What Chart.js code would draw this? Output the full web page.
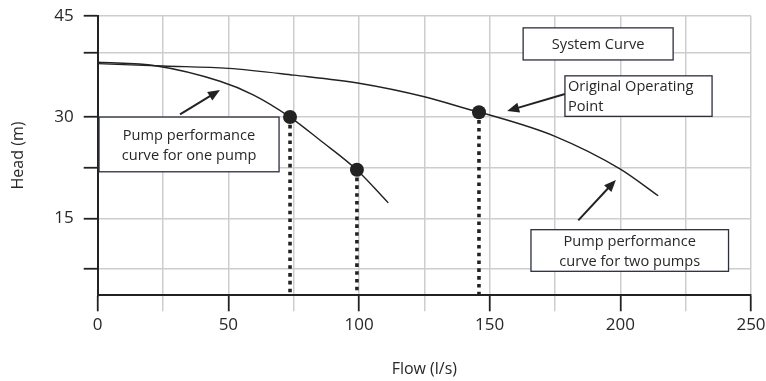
<!DOCTYPE html>
<html><head><meta charset="utf-8">
<script src="https://cdn.jsdelivr.net/npm/chart.js@4.4.0/dist/chart.umd.min.js"></script>
<style>html,body{margin:0;padding:0;background:#fff;overflow:hidden}
#wrap{width:766px;height:381px;position:relative}</style>
</head><body><div id="wrap"><canvas id="c" width="766" height="381"></canvas></div>
<script>
// ---- data ----
const onePumpFlow = [0, 22, 46.8, 59.5, 73.6, 85, 99.1, 111.2];
const onePumpHead = [38.1, 37.6, 35.3, 33.3, 30.0, 26.6, 22.2, 17.3];
const twoPumpFlow = [0, 25, 50, 75, 100, 125, 145.9, 150, 175, 200, 214.5];
const twoPumpHead = [37.9, 37.55, 37.2, 36.2, 35.0, 33.0, 30.7, 30.3, 27.15, 22.3, 18.35];
const opFlow = [73.6, 99.2, 145.9];
const opHead = [30.0, 22.2, 30.7];
const xTicks = [0, 25, 50, 75, 100, 125, 150, 175, 200, 225, 250];
const xLabels = [0, 50, 100, 150, 200, 250];
const yTicks = [7.5, 15, 22.5, 30, 39.5, 45];
const yLabels = [15, 30, 45];
const yMin = 3.62, yMax = 45;
const xTitle = 'Flow (l/s)';
const yTitle = 'Head (m)';
const noteTexts = [
  ['Pump performance', 'curve for one pump'],
  ['System Curve'],
  ['Original Operating', 'Point'],
  ['Pump performance', 'curve for two pumps']
];

// ---- annotation geometry (data units) ----
const noteBoxes = [
  {x0: 0.5, x1: 69.4, y0: 30, y1: 21.9, align: 'center'},
  {x0: 162.8, x1: 220.2, y0: 43.2, y1: 38.45, align: 'center'},
  {x0: 178.8, x1: 235.1, y0: 36.1, y1: 30.1, align: 'left'},
  {x0: 165.8, x1: 241.4, y0: 13.33, y1: 7.17, align: 'center'}
];
const noteArrows = [
  {from: [31.5, 30.4], to: [46.8, 34.0]},
  {from: [178.8, 33.4], to: [156.7, 30.9]},
  {from: [183.9, 14.7], to: [198.3, 20.7]}
];

const INK = '#222222';
const TXT = '#282828';
const GRID = '#cdcdcd';
const FONT = "'Open Sans', sans-serif";

const pts = (xs, ys) => xs.map((v, i) => ({x: v, y: ys[i]}));

const datasets = [
  {data: pts(twoPumpFlow, twoPumpHead), borderColor: INK, borderWidth: 1.4, pointRadius: 0, cubicInterpolationMode: 'monotone', fill: false},
  {data: pts(onePumpFlow, onePumpHead), borderColor: INK, borderWidth: 1.4, pointRadius: 0, cubicInterpolationMode: 'monotone', fill: false}
];
opFlow.forEach((f, i) => {
  datasets.push({data: [{x: f, y: opHead[i]}, {x: f, y: yMin}], borderColor: INK, borderWidth: 3.6,
    borderDash: [3.6, 4.2], borderCapStyle: 'butt', pointRadius: 0, fill: false});
});
datasets.push({data: pts(opFlow, opHead), showLine: false, pointRadius: 7, pointHoverRadius: 7,
  backgroundColor: INK, borderColor: INK, borderWidth: 0});

const notePlugin = {
  id: 'notes',
  afterDatasetsDraw(chart) {
    const {ctx, scales: {x, y}} = chart;
    ctx.save();
    noteArrows.forEach(a => {
      const x1 = x.getPixelForValue(a.from[0]), y1 = y.getPixelForValue(a.from[1]);
      const x2 = x.getPixelForValue(a.to[0]), y2 = y.getPixelForValue(a.to[1]);
      const ang = Math.atan2(y2 - y1, x2 - x1), c = Math.cos(ang), s = Math.sin(ang);
      const L = 12, W = 5;
      ctx.strokeStyle = INK; ctx.fillStyle = INK; ctx.lineWidth = 2;
      ctx.beginPath(); ctx.moveTo(x1, y1); ctx.lineTo(x2 - L * 0.7 * c, y2 - L * 0.7 * s); ctx.stroke();
      ctx.beginPath(); ctx.moveTo(x2, y2);
      ctx.lineTo(x2 - L * c + W * s, y2 - L * s - W * c);
      ctx.lineTo(x2 - L * c - W * s, y2 - L * s + W * c);
      ctx.closePath(); ctx.fill();
    });
    noteBoxes.forEach((b, i) => {
      const l = x.getPixelForValue(b.x0), r = x.getPixelForValue(b.x1);
      const t = y.getPixelForValue(b.y0), bt = y.getPixelForValue(b.y1);
      ctx.fillStyle = '#fff';
      ctx.fillRect(l, t, r - l, bt - t);
      ctx.strokeStyle = '#2b2f3a'; ctx.lineWidth = 1.3;
      ctx.strokeRect(l, t, r - l, bt - t);
      const lines = noteTexts[i];
      ctx.fillStyle = TXT;
      ctx.font = "14.6px " + FONT;
      ctx.textBaseline = 'middle';
      const lh = 20;
      const cy = (t + bt) / 2 + 1 - (lines.length - 1) * lh / 2;
      lines.forEach((txt, k) => {
        if (b.align === 'left') { ctx.textAlign = 'left'; ctx.fillText(txt, l + 3, cy + k * lh); }
        else { ctx.textAlign = 'center'; ctx.fillText(txt, (l + r) / 2, cy + k * lh); }
      });
    });
    ctx.restore();
  }
};

new Chart(document.getElementById('c'), {
  type: 'line',
  data: {datasets},
  plugins: [notePlugin],
  options: {
    responsive: false,
    animation: false,
    devicePixelRatio: 1,
    layout: {padding: {left: 0, right: 15, top: 15.7, bottom: 0}},
    plugins: {legend: {display: false}, tooltip: {enabled: false}},
    scales: {
      x: {
        type: 'linear', min: 0, max: 250,
        afterBuildTicks: s => { s.ticks = xTicks.map(v => ({value: v})); },
        afterFit: s => { s.paddingLeft = 0; s.paddingRight = 0; s.height = 381 - 295.3; },
        ticks: {autoSkip: false, maxRotation: 0, padding: 4, color: TXT,
          font: {family: FONT, size: 17},
          callback: v => xLabels.includes(v) ? String(v) : ''},
        grid: {color: GRID, lineWidth: 1.5, drawTicks: true, tickLength: 16,
          tickColor: c => (c.tick && xLabels.includes(c.tick.value)) ? INK : GRID,
          tickWidth: c => (c.tick && xLabels.includes(c.tick.value)) ? 1.8 : 1.5},
        border: {display: true, color: INK, width: 2},
        title: {display: true, text: xTitle, color: TXT, font: {family: FONT, size: 16},
          padding: {top: 0, bottom: 1.5}}
      },
      y: {
        type: 'linear', min: yMin, max: yMax,
        afterBuildTicks: s => { s.ticks = yTicks.map(v => ({value: v})); },
        afterFit: s => { s.paddingTop = 0; s.paddingBottom = 0; s.width = 97.7; },
        ticks: {autoSkip: false, padding: 10, color: TXT,
          font: {family: FONT, size: 17},
          callback: v => yLabels.includes(v) ? String(v) : ''},
        grid: {color: GRID, lineWidth: 1.5, drawTicks: true, tickLength: 14, tickColor: INK, tickWidth: 1.8},
        border: {display: true, color: INK, width: 2},
        title: {display: true, text: yTitle, color: TXT, font: {family: FONT, size: 16},
          padding: {top: 8.4, bottom: 0}}
      }
    }
  }
});
</script></body></html>
